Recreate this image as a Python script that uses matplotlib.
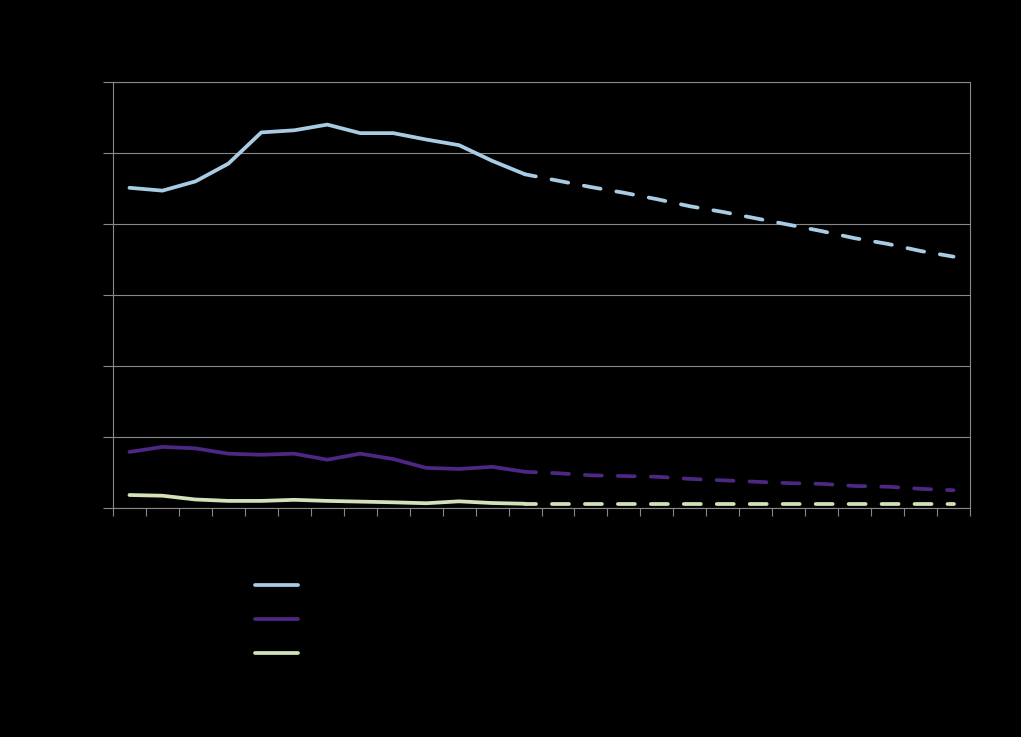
import numpy as np
import matplotlib.pyplot as plt

# category positions (26 periods, labels not shown on the chart)
periods = np.arange(26)
split = 12   # last actual point, projections start here

# series values (actual part, then projection part starting at split)
blue_actual = [45.1, 44.7, 46.0, 48.5, 52.9, 53.2, 54.0, 52.8, 52.8, 51.9, 51.1, 48.9, 47.0]
blue_proj = [47.0, 46.1, 45.2, 44.4, 43.5, 42.5, 41.7, 40.8, 39.9, 39.0, 38.0, 37.2, 36.2, 35.4]

purple_actual = [7.9, 8.6, 8.4, 7.65, 7.5, 7.65, 6.8, 7.65, 6.9, 5.65, 5.5, 5.8, 5.1]
purple_proj = [5.1, 4.9, 4.6, 4.5, 4.4, 4.1, 3.9, 3.7, 3.5, 3.4, 3.1, 3.0, 2.7, 2.5]

green_actual = [1.83, 1.73, 1.2, 1.0, 1.0, 1.15, 1.0, 0.9, 0.8, 0.67, 0.94, 0.7, 0.6]
green_proj = [0.6, 0.6, 0.6, 0.6, 0.6, 0.6, 0.6, 0.6, 0.6, 0.6, 0.6, 0.6, 0.6, 0.6]

labels = ['Series 1', 'Series 2', 'Series 3']
colors = ['#a8cce4', '#4d2783', '#d3e2b9']

fig = plt.figure(figsize=(10.21, 7.37), dpi=100, facecolor='black')
ax = fig.add_axes([113 / 1021, 1 - 508 / 737, 857 / 1021, 426 / 737])
ax.set_facecolor('black')

# dash pattern: one dash per category step, in linewidth units
lw = 2.7
lw_px = lw * 100 / 72
step_px = 857 / 26
dash_on = 17 / lw_px
dash_off = (step_px - 17) / lw_px
dash_offset = 6 / lw_px

series = [(blue_actual, blue_proj), (purple_actual, purple_proj), (green_actual, green_proj)]
x_act = periods[:split + 1]
x_proj = periods[split:]
for (act, proj), col, lab in zip(series, colors, labels):
    ax.plot(x_act, act, color=col, lw=lw, solid_capstyle='round', solid_joinstyle='round', label=lab)
    ax.plot(x_proj, proj, color=col, lw=lw, linestyle=(dash_offset, (dash_on, dash_off)),
            dash_capstyle='round')

# axes styling
ax.set_xlim(-0.5, 25.5)
ax.set_ylim(0, 60)
ax.set_yticks(np.arange(0, 61, 10))
ax.set_yticklabels([])
ax.set_xticks([])
ax.set_xticks(np.arange(-0.5, 26, 1), minor=True)
ax.tick_params(axis='x', which='minor', length=6, color='#888888', width=0.8, labelbottom=False)
ax.tick_params(axis='y', length=7, color='#888888', width=0.8, labelleft=False)
ax.grid(True, axis='y', color='#888888', lw=0.8)
ax.set_axisbelow(True)
for s in ['left', 'bottom', 'right', 'top']:
    ax.spines[s].set_color('#888888')
    ax.spines[s].set_linewidth(0.8)

# legend (text is black on black in the original)
leg = fig.legend(loc='upper left', bbox_to_anchor=(255 / 1021, 1 - 579 / 737),
                 frameon=False, fontsize=10, handlelength=3.1, labelspacing=1.45,
                 borderpad=0, borderaxespad=0, handletextpad=0.8)
for t in leg.get_texts():
    t.set_color('black')

fig.savefig('out.png', dpi=100, facecolor='black')
